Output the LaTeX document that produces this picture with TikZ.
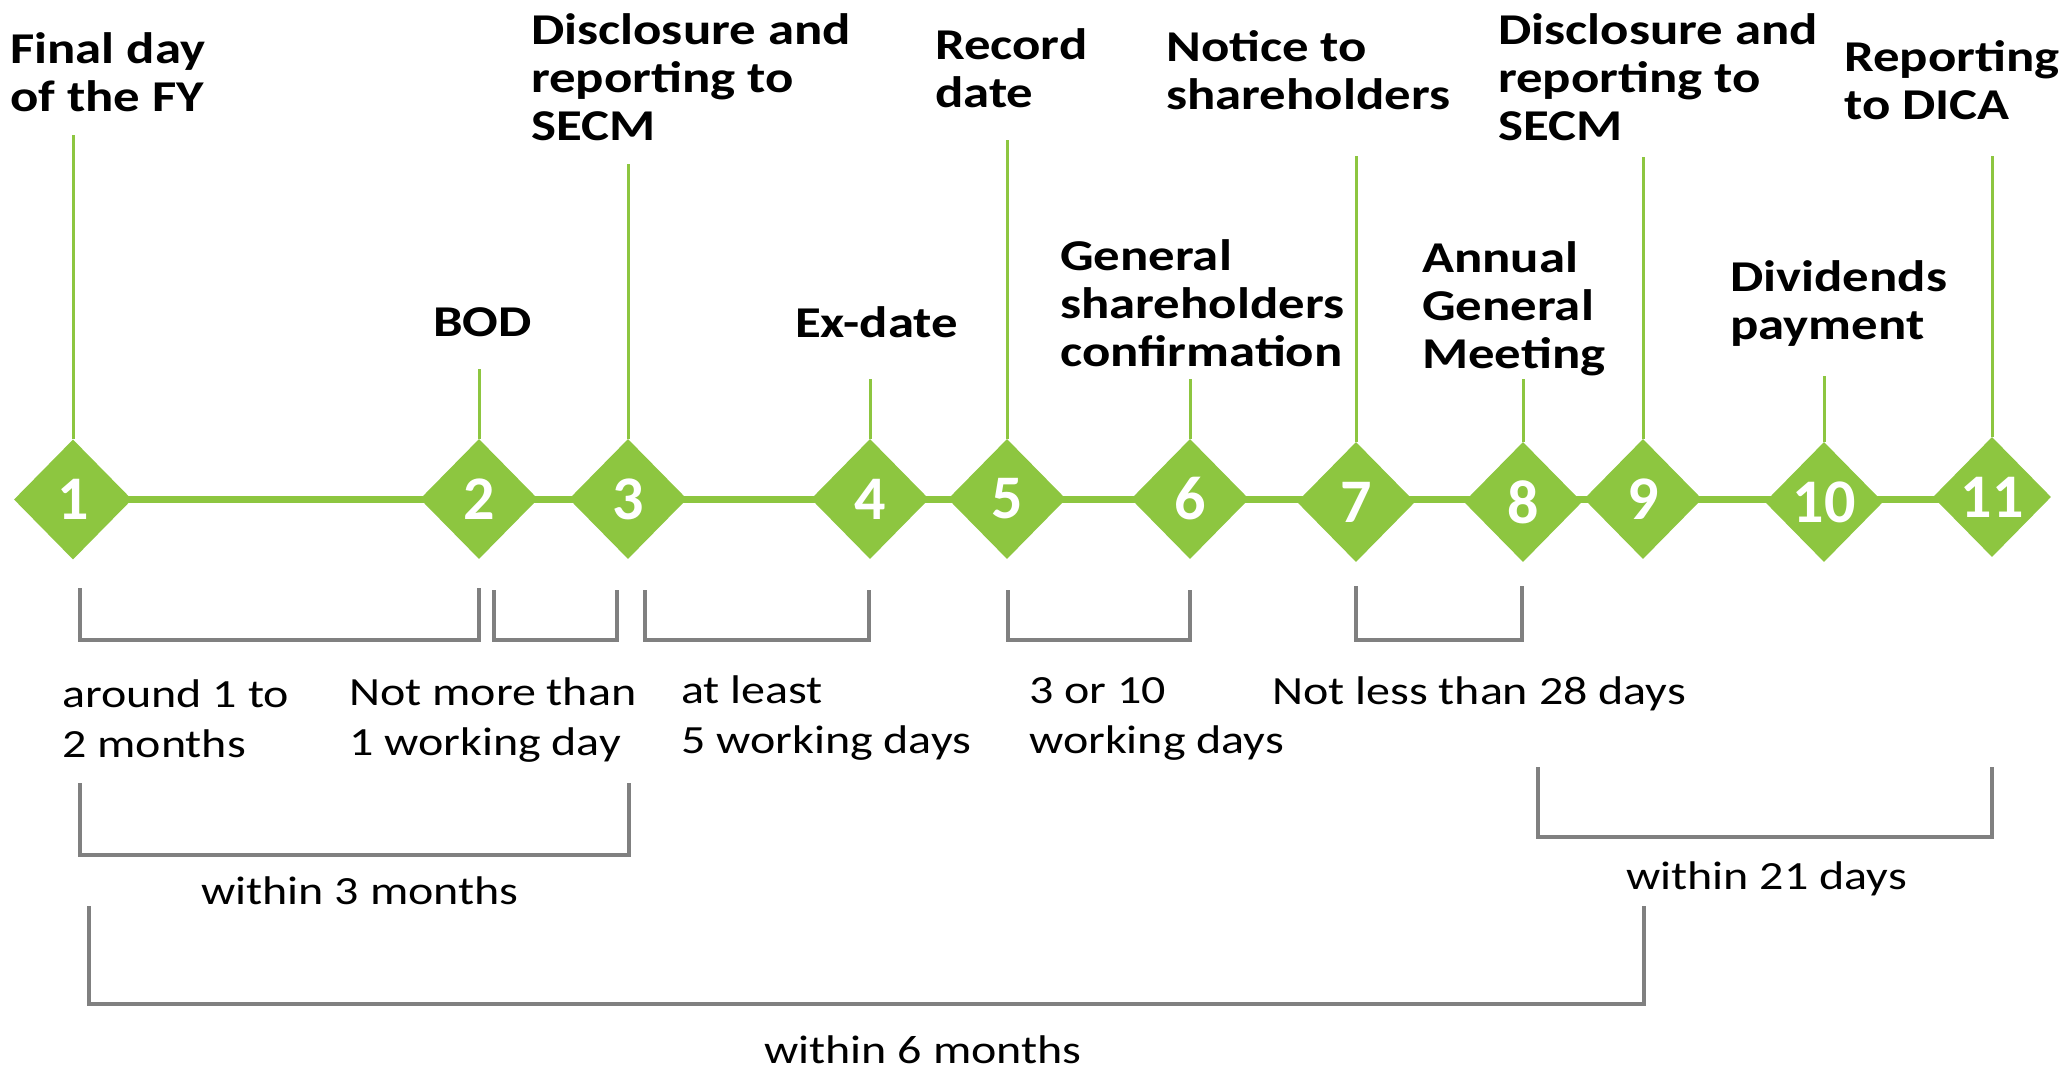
\documentclass[tikz,border=0pt]{standalone}
\usepackage{fontspec}
\setmainfont{Carlito}
\usetikzlibrary{shapes.geometric}
\definecolor{tgreen}{RGB}{141,198,64}
\definecolor{bgray}{RGB}{128,128,128}
\newcommand\sx[1]{\scalebox{1.2}[1]{#1}}
\newcommand\lbl[1]{\sx{\begin{tabular}[t]{@{}l@{}}#1\end{tabular}}}
\pgfdeclarelayer{bg}
\pgfsetlayers{bg,main}
\begin{document}
\begin{tikzpicture}[x=1pt,y=-1pt,
  dia/.style={diamond, fill=tgreen, draw=none, minimum width=118pt, minimum height=120pt, inner sep=0pt, text=white, font=\fontsize{62}{62}\bfseries\selectfont},
  head/.style={anchor=base west, inner sep=0pt, font=\fontsize{44}{48}\bfseries\selectfont},
  note/.style={anchor=base west, inner sep=0pt, font=\fontsize{40}{50}\selectfont},
  tick/.style={draw=tgreen, line width=3pt},
  axis/.style={draw=tgreen, line width=7.5pt},
  brk/.style={draw=bgray, line width=4pt}
]
\useasboundingbox (0,0) rectangle (2064,1074);

% diamonds
\node[dia] (d1) at (73,499.5) {1};
\node[dia] (d2) at (479,499) {2};
\node[dia] (d3) at (628,499) {3};
\node[dia] (d4) at (870,499) {4};
\node[dia] (d5) at (1007,499) {5};
\node[dia] (d6) at (1190,499) {6};
\node[dia] (d7) at (1356,502) {7};
\node[dia] (d8) at (1523,502) {8};
\node[dia] (d9) at (1643,499) {9};
\node[dia] (d10) at (1824,502) {10};
\node[dia] (d11) at (1992,497) {11};

\begin{pgfonlayer}{bg}
\fill[white] (0,0) rectangle (2064,1074);
\draw[axis] (d1.center) -- (d1.center -| d11.center);
\end{pgfonlayer}

% ticks
\coordinate (t1) at (73,135);
\coordinate (t2) at (479,369);
\coordinate (t3) at (628,164);
\coordinate (t4) at (870,379);
\coordinate (t5) at (1007,140);
\coordinate (t6) at (1190,379);
\coordinate (t7) at (1356,156);
\coordinate (t8) at (1523,379);
\coordinate (t9) at (1643,157);
\coordinate (t10) at (1824,376);
\coordinate (t11) at (1992,156);
\foreach \i in {1,...,11} {\draw[tick] (d\i.north) -- (t\i);}

% event labels
\node[head] (L1) at (10,63) {\lbl{Final day\\of the FY}};
\node[head] (L2) at (433,336) {\lbl{BOD}};
\node[head] (L3) at (531,44) {\lbl{Disclosure and\\reporting to\\SECM}};
\node[head] (L4) at (795,337) {\lbl{Ex-date}};
\node[head] (L5) at (935,59) {\lbl{Record\\date}};
\node[head] (L6) at (1060,270) {\lbl{General\\shareholders\\confirmation}};
\node[head] (L7) at (1166,61) {\lbl{Notice to\\shareholders}};
\node[head] (L8) at (1422,272) {\lbl{Annual\\General\\Meeting}};
\node[head] (L9) at (1498,44) {\lbl{Disclosure and\\reporting to\\SECM}};
\node[head] (L10) at (1730,291) {\lbl{Dividends\\payment}};
\node[head] (L11) at (1844,71) {\lbl{Reporting\\to DICA}};

% brackets
\coordinate (b1l) at (80,588);   \coordinate (b1r) at (479,588);
\coordinate (b2l) at (494,590);  \coordinate (b2r) at (617,590);
\coordinate (b3l) at (645,590);  \coordinate (b3r) at (869,590);
\coordinate (b4l) at (1008,590); \coordinate (b4r) at (1190,590);
\coordinate (b5l) at (1356,586); \coordinate (b5r) at (1522,586);
\draw[brk] (b1l) -- ++(0,52) -| (b1r);
\draw[brk] (b2l) -- ++(0,50) -| (b2r);
\draw[brk] (b3l) -- ++(0,50) -| (b3r);
\draw[brk] (b4l) -- ++(0,50) -| (b4r);
\draw[brk] (b5l) -- ++(0,54) -| (b5r);
\coordinate (b6l) at (80,783);   \coordinate (b6r) at (629,783);
\coordinate (b7l) at (1538,767); \coordinate (b7r) at (1992,767);
\coordinate (b8l) at (89,906);   \coordinate (b8r) at (1644,906);
\draw[brk] (b6l) -- ++(0,72) -| (b6r);
\draw[brk] (b7l) -- ++(0,70) -| (b7r);
\draw[brk] (b8l) -- ++(0,98) -| (b8r);

% duration labels
\node[note] (n1) at (62,707) {\lbl{around 1 to\\2 months}};
\node[note] (n2) at (349,705) {\lbl{Not more than\\1 working day}};
\node[note] (n3) at (681,703) {\lbl{at least\\5 working days}};
\node[note] (n4) at (1029,703) {\lbl{3 or 10\\working days}};
\node[note] (n5) at (1272,704) {\lbl{Not less than 28 days}};
\node[note] (n6) at (201,904) {\lbl{within 3 months}};
\node[note] (n7) at (1626,889) {\lbl{within 21 days}};
\node[note] (n8) at (764,1063) {\lbl{within 6 months}};
\end{tikzpicture}
\end{document}
